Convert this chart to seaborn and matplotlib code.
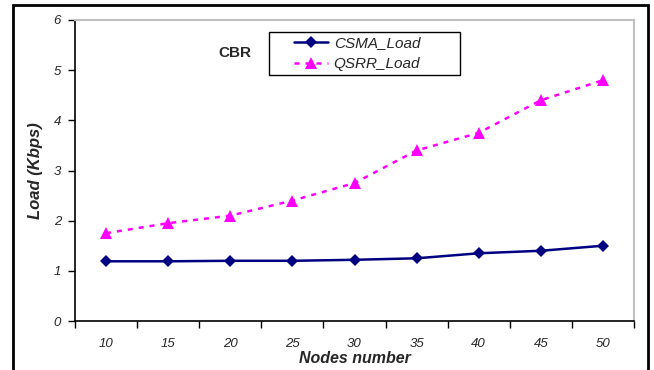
import matplotlib
matplotlib.use("Agg")
import matplotlib.pyplot as plt
import seaborn as sns
import pandas as pd
from matplotlib.patches import Rectangle

nodes = [10, 15, 20, 25, 30, 35, 40, 45, 50]
csma_load = [1.19, 1.19, 1.20, 1.20, 1.22, 1.25, 1.35, 1.40, 1.50]
qsrr_load = [1.75, 1.95, 2.10, 2.40, 2.75, 3.40, 3.75, 4.40, 4.80]
series_names = ["CSMA_Load", "QSRR_Load"]
y_ticks = [0, 1, 2, 3, 4, 5, 6]

df = pd.DataFrame({
    "Nodes": nodes * 2,
    "Load": csma_load + qsrr_load,
    "Series": [series_names[0]] * len(nodes) + [series_names[1]] * len(nodes),
})

sns.set_style("white")
plt.rcParams["font.family"] = ["Liberation Sans", "DejaVu Sans"]

fig = plt.figure(figsize=(6.54, 3.70), dpi=100)
ax = fig.add_axes([75 / 654, 1 - 321 / 370, 559 / 654, 301 / 370])

sns.lineplot(data=df, x="Nodes", y="Load", hue="Series", style="Series",
             palette={"CSMA_Load": "#000080", "QSRR_Load": "#FF00FF"},
             markers={"CSMA_Load": "D", "QSRR_Load": "^"},
             dashes={"CSMA_Load": "", "QSRR_Load": (2, 2.4)},
             markersize=6.5, linewidth=1.8, markeredgewidth=0, ax=ax, legend=True)
for ln in ax.lines:
    if ln.get_marker() == "^":
        ln.set_markersize(8)

ax.set_xlim(7.5, 52.5)
ax.set_ylim(0, 6)
ax.set_yticks(y_ticks)
ax.set_yticklabels([str(v) for v in y_ticks], fontstyle="italic", fontsize=9.5)
major = [7.5 + 5 * i for i in range(10)]
ax.set_xticks(major)
ax.set_xticklabels([""] * len(major))
ax.set_xticks(nodes, minor=True)
ax.set_xticklabels([str(n) for n in nodes], minor=True, fontstyle="italic", fontsize=9.5)
ax.tick_params(axis="x", which="minor", length=0, pad=12)
ax.tick_params(axis="x", which="major", length=5, width=1, direction="out", color="black", bottom=True)
ax.tick_params(axis="y", length=5, width=1, direction="out", color="black", left=True, pad=5)

ax.set_xlabel("Nodes number", fontweight="bold", fontstyle="italic", fontsize=11.5, labelpad=1)
ax.set_ylabel("Load (Kbps)", fontweight="bold", fontstyle="italic", fontsize=12, labelpad=8)

for s in ["left", "bottom"]:
    ax.spines[s].set_color("black")
    ax.spines[s].set_linewidth(1.2)
for s in ["top", "right"]:
    ax.spines[s].set_color("#c0c0c0")
    ax.spines[s].set_linewidth(1.5)

leg = ax.legend(loc="center left", bbox_to_anchor=(294 / 654, 1 - 53.5 / 370),
                bbox_transform=fig.transFigure, frameon=False,
                prop={"style": "italic", "size": 11},
                handlelength=2.2, borderpad=0, labelspacing=0.45, borderaxespad=0,
                handletextpad=0.4)

fig.patches.append(Rectangle((269 / 654, 1 - 75 / 370), (460 - 269) / 654, 43 / 370,
                             transform=fig.transFigure, fill=False,
                             edgecolor="black", linewidth=1.0))

fig.text(235 / 654, 1 - 53 / 370, "CBR", fontweight="bold", fontsize=11,
         ha="center", va="center")

fig.patches.append(Rectangle((13 / 654, -0.05), (648 - 13) / 654, 1.05 - 5 / 370,
                             transform=fig.transFigure, fill=False,
                             edgecolor="black", linewidth=2))

fig.savefig("out.png", dpi=100)
